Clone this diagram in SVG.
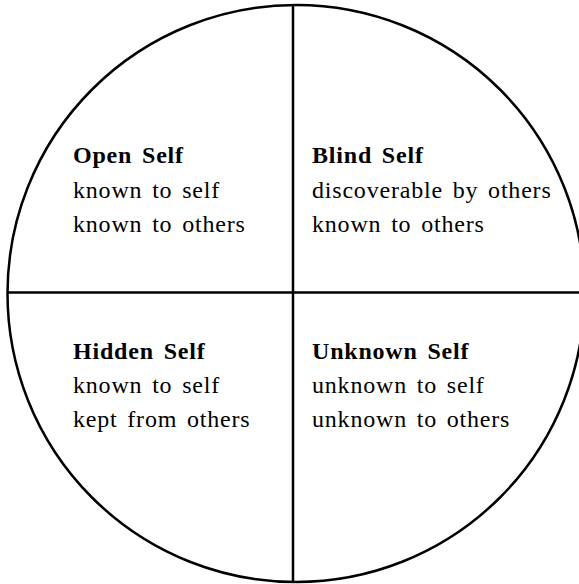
<svg xmlns="http://www.w3.org/2000/svg" width="579" height="584" viewBox="0 0 579 584">
<style>
.ln{stroke:#000;stroke-width:2.5;fill:none}
text{font-family:"Liberation Serif","Times New Roman",serif;font-size:24px;letter-spacing:0.8px;word-spacing:3px;fill:#000}
.t{font-weight:bold}
</style>
<rect width="579" height="584" fill="#fff"/>
<g id="connectors">
<circle class="ln" cx="296" cy="293.5" r="288.5"/>
<line class="ln" x1="293" y1="4" x2="293" y2="583"/>
<line class="ln" x1="7" y1="292.5" x2="579" y2="292.5"/>
</g>
<g id="open-self">
<text x="73" y="163" class="t">Open Self</text>
<text x="73" y="198">known to self</text>
<text x="73" y="232">known to others</text>
</g>
<g id="blind-self">
<text x="312" y="163" class="t">Blind Self</text>
<text x="312" y="198">discoverable by others</text>
<text x="312" y="232">known to others</text>
</g>
<g id="hidden-self">
<text x="73" y="359" class="t">Hidden Self</text>
<text x="73" y="393">known to self</text>
<text x="73" y="427">kept from others</text>
</g>
<g id="unknown-self">
<text x="312" y="359" class="t">Unknown Self</text>
<text x="312" y="393">unknown to self</text>
<text x="312" y="427">unknown to others</text>
</g>
</svg>
